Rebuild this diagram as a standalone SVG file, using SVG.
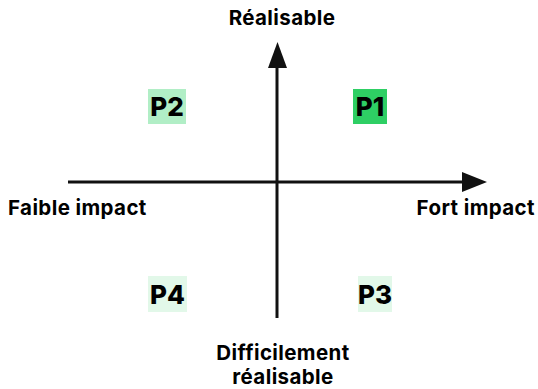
<svg xmlns="http://www.w3.org/2000/svg" width="538" height="389" viewBox="0 0 538 389">
<style>
.lbl{font-family:Inter,"Liberation Sans",sans-serif;font-weight:700;font-size:20.5px;fill:#000;letter-spacing:0.4px}
.p{font-family:Inter,"Liberation Sans",sans-serif;font-weight:800;font-size:26px;fill:#000;text-anchor:middle}
.ax{stroke:#111;stroke-width:3;fill:none}
</style>
<rect width="538" height="389" fill="#fff"/>
<g id="connectors">
<line class="ax" x1="68" y1="182" x2="465" y2="182"/>
<path d="M462,172 L487,182 L462,192 Z" fill="#111"/>
<line class="ax" x1="277" y1="318" x2="277" y2="65"/>
<path d="M268,68 L277.5,42 L287,68 Z" fill="#111"/>
</g>
<g id="label-top"><text class="lbl" x="282" y="25" text-anchor="middle">Réalisable</text></g>
<g id="label-left"><text class="lbl" x="8" y="215">Faible impact</text></g>
<g id="label-right"><text class="lbl" x="535" y="215" text-anchor="end">Fort impact</text></g>
<g id="label-bottom"><text class="lbl" x="283" y="360" text-anchor="middle">Difficilement</text><text class="lbl" x="283" y="384" text-anchor="middle">réalisable</text></g>
<g id="P2"><rect x="148" y="89" width="38" height="35" fill="#b1eec6"/><text class="p" x="167" y="116">P2</text></g>
<g id="P1"><rect x="353" y="89" width="34" height="35" fill="#2ecf64"/><text class="p" x="370" y="116">P1</text></g>
<g id="P4"><rect x="148" y="276" width="39" height="36" fill="#e2f8e9"/><text class="p" x="167.5" y="303.5">P4</text></g>
<g id="P3"><rect x="358" y="276" width="34" height="36" fill="#e2f8e9"/><text class="p" x="375" y="303.5">P3</text></g>
</svg>
